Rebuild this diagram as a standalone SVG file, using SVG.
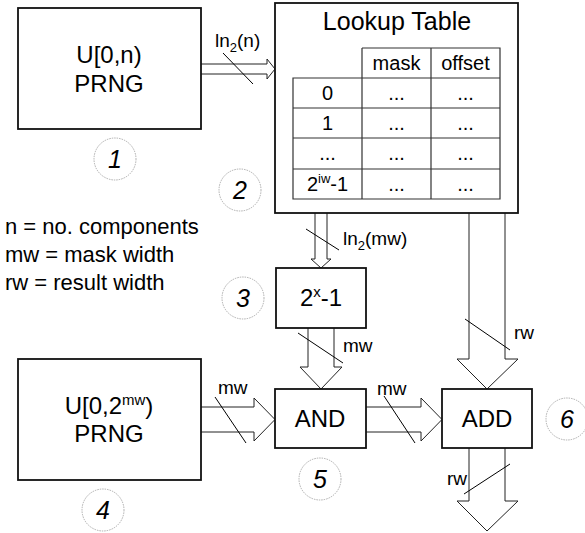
<svg xmlns="http://www.w3.org/2000/svg" width="585" height="533" viewBox="0 0 585 533">
<style>
text{font-family:"Liberation Sans",Arial,sans-serif;fill:#000}
.box{fill:#fff;stroke:#111;stroke-width:1.8}
.big{font-size:24px;text-anchor:middle}
.title{font-size:25px;text-anchor:middle}
.cell{font-size:20px;text-anchor:middle}
.lbl{font-size:19px}
.leg{font-size:22px}
.num{font-size:25px;font-style:italic;text-anchor:middle}
.circ{fill:none;stroke:#999;stroke-width:0.8;stroke-dasharray:1.5 1}
.arr{fill:#fff;stroke:#222;stroke-width:1}
.sl{stroke:#000;stroke-width:1}
.tab{fill:none;stroke:#333;stroke-width:1.2}
</style>
<rect width="585" height="533" fill="#fff"/>
<g id="connectors">
<path class="arr" d="M201,64 H267 V59 L275,69 L267,79 V74 H201"/>
<line class="sl" x1="223" y1="53" x2="253" y2="84"/>
<text class="lbl" x="215" y="47">ln<tspan font-size="13" dy="5">2</tspan><tspan dy="-5">(n)</tspan></text>
<path class="arr" d="M315,213 V259 H311 L321,268 L331,259 H327 V213"/>
<line class="sl" x1="306" y1="229" x2="339" y2="250"/>
<text class="lbl" x="343" y="245">ln<tspan font-size="13" dy="5">2</tspan><tspan dy="-5">(mw)</tspan></text>
<path class="arr" d="M308,328 V367 H300 L321,389 L342,367 H334 V328"/>
<line class="sl" x1="298" y1="333" x2="343" y2="363"/>
<text class="lbl" x="343" y="352">mw</text>
<path class="arr" d="M201,407 H254 V398 L275,419.5 L254,441 V432 H201"/>
<line class="sl" x1="215" y1="397" x2="246" y2="443"/>
<text class="lbl" x="218" y="394">mw</text>
<path class="arr" d="M366,407 H421 V398 L442,419.5 L421,441 V432 H366"/>
<line class="sl" x1="384" y1="396" x2="415" y2="443"/>
<text class="lbl" x="377" y="395">mw</text>
<path class="arr" d="M469,213 V359 H457 L487,389 L518,359 H505 V213"/>
<line class="sl" x1="465" y1="319" x2="510" y2="350"/>
<text class="lbl" x="514" y="339">rw</text>
<path class="arr" d="M469,448 V501 H457 L487,531 L518,501 H505 V448"/>
<line class="sl" x1="464" y1="494" x2="510" y2="464"/>
<text class="lbl" x="447" y="485">rw</text>
</g>
<g id="n1">
<rect class="box" x="18" y="8" width="183" height="121"/>
<text class="big" x="109" y="63">U[0,n)</text>
<text class="big" x="109" y="92">PRNG</text>
<circle class="circ" cx="115" cy="159" r="21"/>
<text class="num" x="115" y="168">1</text>
</g>
<g id="n2">
<rect class="box" x="275" y="3" width="243" height="210"/>
<text class="title" x="397" y="30">Lookup Table</text>
<path class="tab" d="M362,48 H500 V199 H293 V78 H500 M362,48 V199 M431,48 V199 M293,108 H500 M293,138 H500 M293,169 H500"/>
<text class="cell" x="396.5" y="70">mask</text>
<text class="cell" x="465.5" y="70">offset</text>
<text class="cell" x="327.5" y="100">0</text>
<text class="cell" x="396.5" y="100">...</text>
<text class="cell" x="465.5" y="100">...</text>
<text class="cell" x="327.5" y="130">1</text>
<text class="cell" x="396.5" y="130">...</text>
<text class="cell" x="465.5" y="130">...</text>
<text class="cell" x="327.5" y="160">...</text>
<text class="cell" x="396.5" y="160">...</text>
<text class="cell" x="465.5" y="160">...</text>
<text class="cell" x="327.5" y="191">2<tspan font-size="13" dy="-8">iw</tspan><tspan dy="8">-1</tspan></text>
<text class="cell" x="396.5" y="191">...</text>
<text class="cell" x="465.5" y="191">...</text>
<circle class="circ" cx="240" cy="190" r="21"/>
<text class="num" x="240" y="199">2</text>
</g>
<g id="legend">
<text class="leg" x="5" y="234">n = no. components</text>
<text class="leg" x="5" y="262">mw = mask width</text>
<text class="leg" x="5" y="290">rw = result width</text>
</g>
<g id="n3">
<rect class="box" x="276" y="268" width="90" height="60"/>
<text class="big" x="321" y="306">2<tspan font-size="15" dy="-9">x</tspan><tspan dy="9">-1</tspan></text>
<circle class="circ" cx="243" cy="298" r="21"/>
<text class="num" x="243" y="307">3</text>
</g>
<g id="n4">
<rect class="box" x="18" y="359" width="183" height="121"/>
<text class="big" x="109" y="414">U[0,2<tspan font-size="15" dy="-9">mw</tspan><tspan dy="9">)</tspan></text>
<text class="big" x="109" y="442">PRNG</text>
<circle class="circ" cx="103" cy="510" r="21"/>
<text class="num" x="103" y="519">4</text>
</g>
<g id="n5">
<rect class="box" x="275" y="389" width="91" height="59"/>
<text class="big" x="320" y="427">AND</text>
<circle class="circ" cx="320" cy="479" r="21"/>
<text class="num" x="320" y="488">5</text>
</g>
<g id="n6">
<rect class="box" x="442" y="389" width="90" height="59"/>
<text class="big" x="487" y="427">ADD</text>
<circle class="circ" cx="567" cy="419" r="21"/>
<text class="num" x="567" y="428">6</text>
</g>
</svg>
